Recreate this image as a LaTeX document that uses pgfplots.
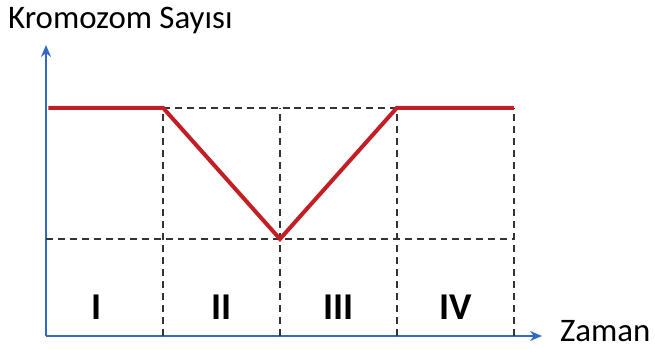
\documentclass[border=0pt]{standalone}
\usepackage{pgfplots}
\pgfplotsset{compat=1.18}
\usepackage{fontspec}
\setmainfont{Carlito}
\usetikzlibrary{arrows.meta}
\definecolor{axblue}{RGB}{50,105,195}
\definecolor{curvered}{RGB}{195,30,35}

\begin{document}
\begin{tikzpicture}
\useasboundingbox (-46bp,-13bp) rectangle (609bp,336bp);
\begin{axis}[
    scale only axis,
    width=496bp, height=291bp,
    xmin=0, xmax=4.24, ymin=0, ymax=2.55,
    axis lines=left,
    axis line style={axblue, line width=2.4pt, -{Stealth[length=12pt,width=10pt]}},
    xtick=\empty, ytick=\empty,
    clip=false,
    grid line/.style={black!80, line width=2.1pt, dash pattern=on 7pt off 5pt},
    ]
    % dashed grid
    \addplot[grid line] coordinates {(1,2) (4,2)};
    \addplot[grid line] coordinates {(0,0.85) (4,0.85)};
    \addplot[grid line] coordinates {(1,0) (1,2)};
    \addplot[grid line] coordinates {(2,0) (2,2)};
    \addplot[grid line] coordinates {(3,0) (3,2)};
    \addplot[grid line] coordinates {(4,0) (4,2)};
    % chromosome count
    \addplot[curvered, line width=4pt] coordinates {(0.02,2) (1,2) (2,0.85) (3,2) (4,2)};
    % phase labels
    \node[font=\fontsize{38}{38}\selectfont\bfseries] at (axis cs:0.43,0.25) {I};
    \node[font=\fontsize{38}{38}\selectfont\bfseries] at (axis cs:1.5,0.25) {II};
    \node[font=\fontsize{38}{38}\selectfont\bfseries] at (axis cs:2.5,0.25) {III};
    \node[font=\fontsize{38}{38}\selectfont\bfseries] at (axis cs:3.5,0.25) {IV};
\end{axis}
\node[font=\fontsize{33}{33}\selectfont, anchor=west, inner sep=0pt] at (-38bp,316bp) {Kromozom Sayısı};
\node[font=\fontsize{33}{33}\selectfont, anchor=west, inner sep=0pt] at (514bp,5bp) {Zaman};
\end{tikzpicture}
\end{document}
